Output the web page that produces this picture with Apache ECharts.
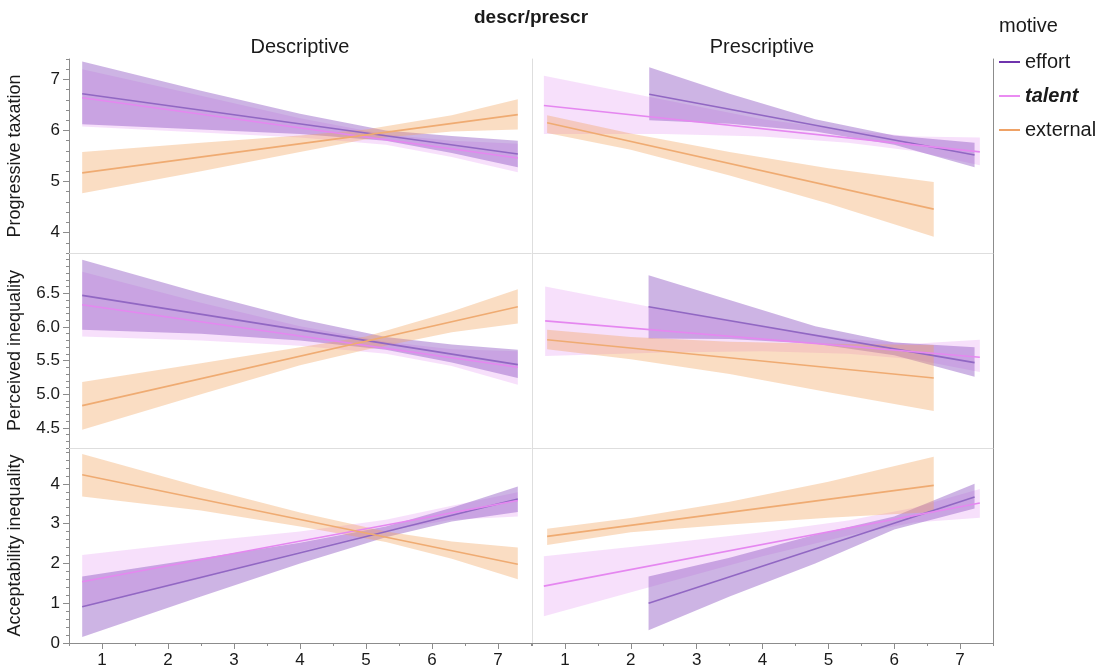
<!DOCTYPE html>
<html><head><meta charset="utf-8">
<script src="https://cdn.jsdelivr.net/npm/echarts@6/dist/echarts.min.js"></script>
<style>html,body{margin:0;padding:0;background:#fff}#c{width:1100px;height:672px}</style>
</head><body><div id="c"></div>
<script>
// ---------- labels ----------
const chartTitle = 'descr/prescr';
const colNames = ['Descriptive', 'Prescriptive'];
const rowNames = ['Progressive taxation', 'Perceived inequality', 'Acceptability inequality'];
const motives = ['effort', 'talent', 'external'];
const legendTitle = 'motive';
const xTicks = [1, 2, 3, 4, 5, 6, 7];
const yTicksTax = [4, 5, 6, 7];
const yTicksPerc = [4.5, 5.0, 5.5, 6.0, 6.5];
const yTicksAcc = [0, 1, 2, 3, 4];

// ---------- data: fitted lines [x, y] and bands [x, lower, upper] ----------
// Progressive taxation — Descriptive
const taxDesc_effort_fit = [[0.7, 6.72], [7.3, 5.54]];
const taxDesc_effort_band = [[0.7, 6.12, 7.35], [2.5, 6.02, 6.78], [4, 5.93, 6.33], [5.3, 5.80, 6.00], [6.3, 5.56, 5.89], [7.3, 5.28, 5.80]];
const taxDesc_talent_fit = [[0.7, 6.64], [7.3, 5.46]];
const taxDesc_talent_band = [[0.7, 6.08, 7.20], [2.5, 5.96, 6.68], [4, 5.86, 6.24], [5.3, 5.72, 5.92], [6.3, 5.48, 5.80], [7.3, 5.18, 5.74]];
const taxDesc_external_fit = [[0.7, 5.17], [7.3, 6.31]];
const taxDesc_external_band = [[0.7, 4.77, 5.58], [2.5, 5.20, 5.76], [4, 5.58, 5.90], [5, 5.83, 6.02], [6.3, 5.98, 6.30], [7.3, 6.02, 6.61]];
// Progressive taxation — Prescriptive
const taxPres_effort_fit = [[2.28, 6.71], [7.22, 5.52]];
const taxPres_effort_band = [[2.28, 6.20, 7.24], [3.5, 6.13, 6.72], [4.8, 5.98, 6.22], [6, 5.72, 5.90], [7.22, 5.28, 5.76]];
const taxPres_talent_fit = [[0.68, 6.49], [7.3, 5.58]];
const taxPres_talent_band = [[0.68, 5.93, 7.07], [2.5, 5.93, 6.60], [4, 5.88, 6.22], [5.3, 5.76, 6.00], [6.3, 5.60, 5.88], [7.3, 5.32, 5.86]];
const taxPres_external_fit = [[0.73, 6.15], [6.6, 4.46]];
const taxPres_external_band = [[0.73, 5.95, 6.30], [2, 5.62, 5.94], [3.5, 5.12, 5.58], [5, 4.57, 5.26], [6.6, 3.92, 4.99]];
// Perceived inequality — Descriptive
const percDesc_effort_fit = [[0.7, 6.47], [7.3, 5.44]];
const percDesc_effort_band = [[0.7, 5.96, 7.00], [2.5, 5.90, 6.50], [4, 5.80, 6.12], [5.3, 5.66, 5.85], [6.3, 5.47, 5.74], [7.3, 5.24, 5.66]];
const percDesc_talent_fit = [[0.7, 6.33], [7.3, 5.40]];
const percDesc_talent_band = [[0.7, 5.86, 6.82], [2.5, 5.80, 6.36], [4, 5.72, 6.01], [5.3, 5.60, 5.78], [6.3, 5.42, 5.67], [7.3, 5.14, 5.64]];
const percDesc_external_fit = [[0.7, 4.83], [7.3, 6.30]];
const percDesc_external_band = [[0.7, 4.47, 5.18], [2.5, 5.00, 5.46], [4, 5.43, 5.70], [5, 5.66, 5.86], [6.3, 5.92, 6.23], [7.3, 6.05, 6.56]];
// Perceived inequality — Prescriptive
const percPres_effort_fit = [[2.27, 6.30], [7.22, 5.47]];
const percPres_effort_band = [[2.27, 5.83, 6.77], [3.5, 5.82, 6.40], [4.8, 5.75, 6.01], [6, 5.58, 5.77], [7.22, 5.26, 5.70]];
const percPres_talent_fit = [[0.7, 6.09], [7.3, 5.55]];
const percPres_talent_band = [[0.7, 5.57, 6.60], [2.5, 5.62, 6.26], [4, 5.64, 6.00], [5.3, 5.60, 5.82], [6.3, 5.52, 5.75], [7.3, 5.33, 5.81]];
const percPres_external_fit = [[0.73, 5.81], [6.6, 5.24]];
const percPres_external_band = [[0.73, 5.67, 5.96], [2, 5.52, 5.85], [3.5, 5.30, 5.78], [5, 5.03, 5.75], [6.6, 4.75, 5.73]];
// Acceptability inequality — Descriptive
const accDesc_effort_fit = [[0.7, 0.91], [7.3, 3.62]];
const accDesc_effort_band = [[0.7, 0.15, 1.67], [2.5, 1.17, 2.13], [4, 2.00, 2.52], [5.3, 2.66, 2.93], [6.3, 3.05, 3.40], [7.3, 3.29, 3.93]];
const accDesc_talent_fit = [[0.7, 1.54], [7.3, 3.58]];
const accDesc_talent_band = [[0.7, 0.90, 2.21], [2.5, 1.62, 2.55], [4, 2.30, 2.80], [5.3, 2.82, 3.10], [6.3, 3.10, 3.45], [7.3, 3.18, 3.79]];
const accDesc_external_fit = [[0.7, 4.23], [7.3, 1.98]];
const accDesc_external_band = [[0.7, 3.68, 4.75], [2.5, 3.33, 3.92], [4, 2.93, 3.28], [5.3, 2.54, 2.80], [6.3, 2.12, 2.55], [7.3, 1.60, 2.40]];
// Acceptability inequality — Prescriptive
const accPres_effort_fit = [[2.27, 1.00], [7.22, 3.67]];
const accPres_effort_band = [[2.27, 0.32, 1.67], [3.5, 1.17, 2.14], [4.8, 2.00, 2.72], [6, 2.85, 3.18], [7.22, 3.38, 4.00]];
const accPres_talent_fit = [[0.68, 1.43], [7.3, 3.52]];
const accPres_talent_band = [[0.68, 0.67, 2.18], [2.5, 1.50, 2.50], [4, 2.18, 2.78], [5.3, 2.70, 3.08], [6.3, 3.03, 3.40], [7.3, 3.15, 3.87]];
const accPres_external_fit = [[0.73, 2.68], [6.6, 3.96]];
const accPres_external_band = [[0.73, 2.46, 2.87], [2, 2.78, 3.14], [3.5, 2.98, 3.55], [5, 3.15, 4.05], [6.6, 3.29, 4.68]];

// ---------- build ----------
const FONT = '"Liberation Sans", Arial, Helvetica, sans-serif';
const TXT = '#1a1a1a';
const AX = '#8c8c8c';
const SEP = '#dedede';
const lineColor = { effort: '#9167c3', talent: '#e587f0', external: '#efab72' };
const legendColor = { effort: '#6f34ad', talent: '#ea8cf2', external: '#efa266' };
const bandColor = { effort: 'rgba(144,88,195,0.45)', talent: 'rgba(225,130,240,0.25)', external: 'rgba(240,160,90,0.36)' };

const panels = [
  [
    { effort: [taxDesc_effort_band, taxDesc_effort_fit], talent: [taxDesc_talent_band, taxDesc_talent_fit], external: [taxDesc_external_band, taxDesc_external_fit] },
    { effort: [taxPres_effort_band, taxPres_effort_fit], talent: [taxPres_talent_band, taxPres_talent_fit], external: [taxPres_external_band, taxPres_external_fit] }
  ],
  [
    { effort: [percDesc_effort_band, percDesc_effort_fit], talent: [percDesc_talent_band, percDesc_talent_fit], external: [percDesc_external_band, percDesc_external_fit] },
    { effort: [percPres_effort_band, percPres_effort_fit], talent: [percPres_talent_band, percPres_talent_fit], external: [percPres_external_band, percPres_external_fit] }
  ],
  [
    { effort: [accDesc_effort_band, accDesc_effort_fit], talent: [accDesc_talent_band, accDesc_talent_fit], external: [accDesc_external_band, accDesc_external_fit] },
    { effort: [accPres_effort_band, accPres_effort_fit], talent: [accPres_talent_band, accPres_talent_fit], external: [accPres_external_band, accPres_external_fit] }
  ]
];
const rowAxes = [
  { min: 3.6, max: 7.4, ticks: yTicksTax, step: 0.2, fmt: v => String(v) },
  { min: 4.2, max: 7.1, ticks: yTicksPerc, step: 0.1, fmt: v => v.toFixed(1) },
  { min: 0, max: 4.9, ticks: yTicksAcc, step: 0.2, fmt: v => String(v) }
];
const rowTop = [59, 253, 448];
const rowH = [194, 195, 195];
const colLeft = [69, 532];
const colW = [462, 461];

function range(a, b, s) { const out = []; for (let v = a; v <= b + 1e-9; v += s) out.push(Math.round(v * 1000) / 1000); return out; }
const xMinor = range(0.5, 7.5, 0.5);

function bandRenderer(color) {
  return function (params, api) {
    if (params.dataIndex !== 0) return null;
    const n = params.dataInsideLength;
    const upper = [], lower = [];
    for (let i = 0; i < n; i++) {
      const x = api.value(0, i), lo = api.value(1, i), hi = api.value(2, i);
      upper.push(api.coord([x, hi]));
      lower.push(api.coord([x, lo]));
    }
    const pts = upper.concat(lower.reverse());
    return { type: 'polygon', shape: { points: pts }, style: { fill: color, stroke: null }, silent: true };
  };
}

const grid = [], xAxis = [], yAxis = [], series = [];
for (let r = 0; r < 3; r++) {
  for (let c = 0; c < 2; c++) {
    const g = grid.length;
    grid.push({ left: colLeft[c], top: rowTop[r], width: colW[c], height: rowH[r], containLabel: false });
    const ra = rowAxes[r];
    const bottom = r === 2;
    const xi = xAxis.length;
    xAxis.push({
      gridIndex: g, type: 'value', min: 0.5, max: 7.5,
      axisLine: { show: true, onZero: false, lineStyle: { color: bottom ? AX : SEP, width: 1 } },
      axisTick: { show: bottom, customValues: xTicks, length: 6, lineStyle: { color: AX } },
      axisLabel: { show: bottom, customValues: xTicks, fontSize: 17, color: TXT, fontFamily: FONT, margin: 9 },
      splitLine: { show: false }
    });
    if (bottom) {
      xAxis.push({
        gridIndex: g, type: 'value', min: 0.5, max: 7.5, position: 'bottom',
        axisLine: { show: false, onZero: false },
        axisTick: { show: true, customValues: xMinor, length: 3, lineStyle: { color: AX } },
        axisLabel: { show: false }, splitLine: { show: false }
      });
    }
    const yi = yAxis.length;
    if (c === 0) {
      yAxis.push({
        gridIndex: g, type: 'value', min: ra.min, max: ra.max, position: 'left',
        axisLine: { show: true, onZero: false, lineStyle: { color: AX, width: 1 } },
        axisTick: { show: true, customValues: ra.ticks, length: 6, lineStyle: { color: AX } },
        axisLabel: { show: true, customValues: ra.ticks, formatter: ra.fmt, fontSize: 17, color: TXT, fontFamily: FONT, margin: 9 },
        splitLine: { show: false },
        name: rowNames[r], nameLocation: 'middle', nameRotate: 90, nameGap: 45,
        nameTextStyle: { fontSize: 18, color: TXT, fontFamily: FONT }
      });
      yAxis.push({
        gridIndex: g, type: 'value', min: ra.min, max: ra.max, position: 'left',
        axisLine: { show: false, onZero: false },
        axisTick: { show: true, customValues: range(ra.min, ra.max, ra.step), length: 3, lineStyle: { color: AX } },
        axisLabel: { show: false }, splitLine: { show: false }
      });
    } else {
      yAxis.push({
        gridIndex: g, type: 'value', min: ra.min, max: ra.max, position: 'left',
        axisLine: { show: true, onZero: false, lineStyle: { color: SEP, width: 1 } },
        axisTick: { show: false }, axisLabel: { show: false }, splitLine: { show: false }
      });
      yAxis.push({
        gridIndex: g, type: 'value', min: ra.min, max: ra.max, position: 'right',
        axisLine: { show: true, onZero: false, lineStyle: { color: AX, width: 1 } },
        axisTick: { show: false }, axisLabel: { show: false }, splitLine: { show: false }
      });
    }
    const p = panels[r][c];
    ['talent', 'effort', 'external'].forEach(m => {
      series.push({
        type: 'custom', name: m + ' band', xAxisIndex: xi, yAxisIndex: yi,
        data: p[m][0], encode: { x: 0, y: [1, 2] },
        renderItem: bandRenderer(bandColor[m]), silent: true, clip: true, z: 1
      });
    });
    motives.forEach(m => {
      series.push({
        type: 'line', name: m, xAxisIndex: xi, yAxisIndex: yi,
        data: p[m][1], symbol: 'none', silent: true, color: lineColor[m],
        lineStyle: { color: lineColor[m], width: 1.6 }, z: 3
      });
    });
  }
}

const chart = echarts.init(document.getElementById('c'), null, { renderer: 'canvas' });
chart.setOption({
  animation: false,
  backgroundColor: '#fff',
  textStyle: { fontFamily: FONT },
  grid, xAxis, yAxis, series,
  legend: {
    orient: 'vertical', left: 999, top: 52, itemWidth: 21, itemHeight: 2, itemGap: 14,
    icon: 'rect', padding: 0, selectedMode: false,
    textStyle: { fontSize: 20, color: TXT, fontFamily: FONT },
    data: [
      { name: 'effort', itemStyle: { color: legendColor.effort } },
      { name: 'talent', itemStyle: { color: legendColor.talent }, textStyle: { fontWeight: 'bold', fontStyle: 'italic' } },
      { name: 'external', itemStyle: { color: legendColor.external } }
    ]
  },
  graphic: [
    { type: 'text', x: 531, y: 18, style: { text: chartTitle, font: 'bold 19px ' + FONT, fill: TXT, textAlign: 'center', textVerticalAlign: 'middle' } },
    { type: 'text', x: 300, y: 47, style: { text: colNames[0], font: '20px ' + FONT, fill: TXT, textAlign: 'center', textVerticalAlign: 'middle' } },
    { type: 'text', x: 762, y: 47, style: { text: colNames[1], font: '20px ' + FONT, fill: TXT, textAlign: 'center', textVerticalAlign: 'middle' } },
    { type: 'text', x: 999, y: 26, style: { text: legendTitle, font: '20px ' + FONT, fill: TXT, textAlign: 'left', textVerticalAlign: 'middle' } }
  ]
});
</script></body></html>
